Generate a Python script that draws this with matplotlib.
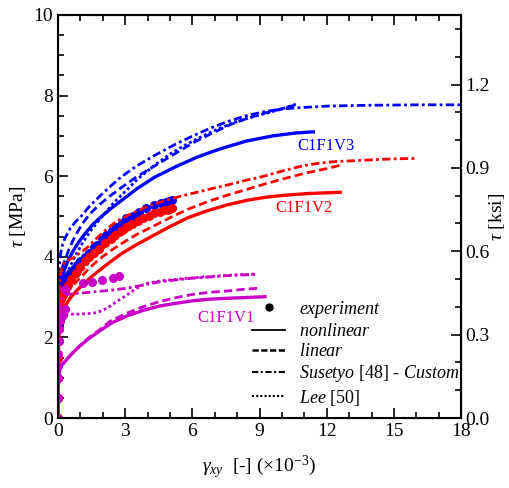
import numpy as np
import matplotlib
matplotlib.use('Agg')
import matplotlib.pyplot as plt
from matplotlib.lines import Line2D
from matplotlib.ticker import MultipleLocator, FormatStrFormatter

plt.rcParams['font.family'] = ['Liberation Serif', 'DejaVu Serif']
plt.rcParams['mathtext.fontset'] = 'custom'
plt.rcParams['mathtext.rm'] = 'Liberation Serif'
plt.rcParams['mathtext.it'] = 'Liberation Serif:italic'

BLUE = '#0000ff'
RED = '#ff0000'
MAG = '#c800c8'

# ---- C1F1V3 (blue) ----
v3_exp_x = [0, 0.005, 0.01, 0.015, 0.02, 0.03, 0.04, 0.05, 0.07, 0.1, 0.15, 0.25, 0.4, 0.55, 0.7, 0.85,
            1.0, 1.2, 1.4, 1.6, 1.75, 1.95, 2.15, 2.4, 2.6, 2.85, 3.05, 3.35, 3.6, 3.95, 4.3, 4.6, 4.8, 4.95, 5.1]
v3_exp_y = [0, 0.5, 1.0, 1.5, 1.9, 2.3, 2.6, 2.85, 3.05, 3.2, 3.3, 3.4, 3.5, 3.6, 3.7, 3.8,
            3.9, 4.0, 4.1, 4.25, 4.3, 4.45, 4.55, 4.65, 4.75, 4.85, 4.95, 5.0, 5.1, 5.2, 5.28, 5.33, 5.36, 5.38, 5.4]
v3_nl_x = [0, 0.005, 0.01, 0.02, 0.04, 0.07, 0.12, 0.2, 0.3, 0.46, 0.65, 0.9, 1.2, 1.55, 1.9, 2.3, 2.84,
           3.5, 4.3, 5.2, 6.2, 7.2, 8.4, 9.6, 10.6, 11.4]
v3_nl_y = [0, 0.8, 1.5, 2.3, 2.9, 3.2, 3.4, 3.55, 3.7, 3.92, 4.12, 4.35, 4.57, 4.8, 4.98, 5.17, 5.4,
           5.68, 5.97, 6.22, 6.47, 6.67, 6.87, 7.0, 7.07, 7.1]
v3_lin_x = [0, 0.005, 0.01, 0.02, 0.04, 0.07, 0.12, 0.2, 0.31, 0.5, 0.75, 1.06, 1.4, 1.8, 2.3, 2.84, 3.5,
            4.33, 5.2, 6.1, 6.93, 7.7, 8.42, 9.2, 9.9, 10.7]
v3_lin_y = [0, 0.9, 1.6, 2.5, 3.1, 3.4, 3.6, 3.75, 3.92, 4.2, 4.5, 4.8, 5.05, 5.27, 5.5, 5.72, 5.98,
            6.26, 6.55, 6.85, 7.08, 7.28, 7.43, 7.56, 7.66, 7.78]
v3_sus_x = [0, 0.005, 0.01, 0.02, 0.04, 0.07, 0.12, 0.2, 0.3, 0.54, 0.8, 1.06, 1.4, 1.8, 2.3, 2.84, 3.5,
            4.33, 5.2, 6.1, 6.93, 7.7, 8.42, 9.2, 9.9, 10.8, 12.1, 14, 16, 18]
v3_sus_y = [0, 1.2, 2.0, 2.9, 3.5, 3.85, 4.1, 4.3, 4.45, 4.7, 4.88, 5.02, 5.25, 5.47, 5.73, 5.99, 6.25,
            6.52, 6.78, 7.02, 7.22, 7.38, 7.5, 7.6, 7.66, 7.7, 7.74, 7.76, 7.77, 7.77]
v3_lee_x = [0, 0.005, 0.01, 0.02, 0.04, 0.07, 0.12, 0.2, 0.4, 0.6, 0.8, 1.1, 1.5, 2.0, 2.5, 3.0, 3.6,
            4.33, 5.0, 5.6, 6.3, 6.93, 7.7, 8.42, 9.2, 9.9, 10.7]
v3_lee_y = [0, 0.8, 1.4, 2.1, 2.7, 3.0, 3.2, 3.35, 3.6, 3.83, 4.05, 4.35, 4.68, 5.02, 5.35, 5.62, 5.95,
            6.28, 6.55, 6.75, 6.95, 7.12, 7.3, 7.43, 7.55, 7.65, 7.8]

# ---- C1F1V2 (red) ----
v2_exp_x = [0, 0.005, 0.01, 0.02, 0.03, 0.04, 0.06, 0.08, 0.1, 0.15, 0.2, 0.3, 0.45, 0.6, 0.8, 1.0, 1.2,
            1.4, 1.6, 1.85, 2.1, 2.35, 2.55, 2.8, 3.05, 3.3, 3.55, 3.8, 4.05, 4.3, 4.55, 4.75, 4.9, 5.0, 5.1]
v2_exp_y = [0, 0.5, 1.0, 1.5, 1.9, 2.2, 2.45, 2.65, 2.8, 2.95, 3.05, 3.15, 3.3, 3.45, 3.6, 3.75, 3.9,
            4.0, 4.1, 4.2, 4.33, 4.45, 4.55, 4.65, 4.75, 4.82, 4.9, 4.95, 5.02, 5.08, 5.12, 5.15, 5.17, 5.18, 5.2]
v2_nl_x = [0, 0.005, 0.01, 0.02, 0.04, 0.07, 0.12, 0.2, 0.31, 0.45, 0.61, 0.85, 1.2, 1.55, 1.95, 2.4,
           2.84, 3.5, 4.33, 5.0, 5.8, 6.6, 7.5, 8.42, 9.3, 10.2, 11.2, 12.6]
v2_nl_y = [0, 0.6, 1.1, 1.6, 2.0, 2.25, 2.45, 2.6, 2.76, 2.9, 3.02, 3.17, 3.36, 3.53, 3.71, 3.9,
           4.08, 4.3, 4.55, 4.75, 4.97, 5.13, 5.28, 5.4, 5.48, 5.53, 5.57, 5.6]
v2_lin_x = [0, 0.005, 0.01, 0.02, 0.04, 0.07, 0.12, 0.2, 0.35, 0.54, 0.8, 1.06, 1.4, 1.8, 2.3, 2.84,
            3.5, 4.33, 5.0, 5.8, 6.6, 7.5, 8.42, 9.2, 9.9, 11.0, 12.1, 12.66]
v2_lin_y = [0, 0.7, 1.2, 1.8, 2.3, 2.6, 2.8, 2.92, 3.05, 3.2, 3.37, 3.52, 3.72, 3.92, 4.13, 4.33,
            4.55, 4.78, 4.97, 5.18, 5.35, 5.52, 5.67, 5.8, 5.91, 6.07, 6.2, 6.28]
v2_sus_x = [0, 0.005, 0.01, 0.02, 0.04, 0.07, 0.12, 0.2, 0.3, 0.45, 0.68, 1.0, 1.35, 1.8, 2.2, 2.62,
            3.2, 4.0, 4.7, 5.45, 6.2, 6.93, 7.7, 8.42, 9.2, 9.9, 10.8, 11.5, 12.3, 13.8, 15.0, 16.0]
v2_sus_y = [0, 0.8, 1.5, 2.3, 2.9, 3.3, 3.6, 3.78, 3.87, 3.92, 3.97, 4.1, 4.25, 4.5, 4.7, 4.88,
            5.05, 5.25, 5.38, 5.5, 5.6, 5.7, 5.8, 5.9, 6.0, 6.11, 6.24, 6.31, 6.36, 6.4, 6.43, 6.44]
v2_lee_x = [0, 0.005, 0.01, 0.02, 0.04, 0.07, 0.12, 0.2, 0.35, 0.5, 0.75, 1.0, 1.4, 2.0, 2.5, 3.0, 3.5,
            4.0, 4.6, 5.2]
v2_lee_y = [0, 0.7, 1.2, 1.8, 2.3, 2.6, 2.8, 2.95, 3.12, 3.25, 3.45, 3.62, 3.88, 4.2, 4.42, 4.6, 4.78,
            4.95, 5.1, 5.2]

# ---- C1F1V1 (magenta) ----
v1_exp_x = [0, 0.005, 0.01, 0.015, 0.02, 0.03, 0.05, 0.08, 0.12, 0.2, 0.3, 0.32, 1.13, 1.5, 1.95, 2.47, 2.74]
v1_exp_y = [0, 0.5, 1.0, 1.3, 1.6, 1.9, 2.2, 2.4, 2.5, 2.56, 2.7, 3.2, 3.34, 3.37, 3.42, 3.47, 3.53]
v1_nl_x = [0, 0.005, 0.01, 0.02, 0.04, 0.08, 0.15, 0.31, 0.5, 0.7, 1.0, 1.35, 1.88, 2.4, 3.07, 3.8,
           4.55, 5.3, 6.04, 6.8, 7.53, 8.4, 9.24]
v1_nl_y = [0, 0.3, 0.6, 0.85, 1.05, 1.2, 1.3, 1.4, 1.52, 1.64, 1.8, 1.96, 2.17, 2.36, 2.53, 2.67,
           2.78, 2.85, 2.91, 2.95, 2.97, 2.99, 3.01]
v1_lin_x = [0, 0.005, 0.01, 0.02, 0.04, 0.08, 0.15, 0.31, 0.5, 0.7, 1.0, 1.35, 1.88, 2.32, 3.07, 3.8,
            4.55, 5.3, 6.04, 6.8, 7.53, 8.2, 8.94]
v1_lin_y = [0, 0.3, 0.6, 0.85, 1.05, 1.2, 1.3, 1.4, 1.53, 1.65, 1.81, 1.98, 2.2, 2.4, 2.6, 2.76,
            2.89, 2.99, 3.07, 3.12, 3.15, 3.19, 3.22]
v1_sus_x = [0, 0.005, 0.01, 0.02, 0.04, 0.07, 0.12, 0.2, 0.3, 0.83, 1.8, 2.5, 3.07, 3.81, 4.55, 5.3,
            6.04, 6.8, 7.53, 8.2, 8.87]
v1_sus_y = [0, 0.6, 1.2, 1.8, 2.3, 2.65, 2.9, 3.02, 3.06, 3.09, 3.14, 3.18, 3.22, 3.3, 3.38, 3.43,
            3.47, 3.5, 3.53, 3.55, 3.56]
v1_lee_x = [0, 0.005, 0.01, 0.02, 0.04, 0.07, 0.12, 0.2, 0.39, 1.0, 1.58, 1.9, 2.17, 2.4, 2.62, 2.85,
            3.07, 3.3, 3.51, 3.75, 3.96, 4.55, 5.3, 6.04, 6.8, 7.53, 8.2, 8.87]
v1_lee_y = [0, 0.5, 1.0, 1.5, 1.95, 2.25, 2.42, 2.52, 2.57, 2.58, 2.6, 2.65, 2.72, 2.8, 2.89, 2.97,
            3.05, 3.14, 3.22, 3.29, 3.34, 3.4, 3.44, 3.48, 3.51, 3.54, 3.56, 3.57]

MPA_PER_KSI = 6.89476

fig = plt.figure(figsize=(5.09, 4.88), dpi=100)
ax = fig.add_axes([0.114, 0.1434, 0.792, 0.826])

lw = 2.0
series = [
    (BLUE, v3_exp_x, v3_exp_y, v3_nl_x, v3_nl_y, v3_lin_x, v3_lin_y, v3_sus_x, v3_sus_y, v3_lee_x, v3_lee_y),
    (RED, v2_exp_x, v2_exp_y, v2_nl_x, v2_nl_y, v2_lin_x, v2_lin_y, v2_sus_x, v2_sus_y, v2_lee_x, v2_lee_y),
    (MAG, v1_exp_x, v1_exp_y, v1_nl_x, v1_nl_y, v1_lin_x, v1_lin_y, v1_sus_x, v1_sus_y, v1_lee_x, v1_lee_y),
]
for c, ex, ey, nx, ny, lx, ly, sx, sy, dx, dy in series:
    ax.plot(sx, sy, color=c, lw=lw, ls=(0, (3, 1.2, 1, 1.2)))
    ax.plot(dx, dy, color=c, lw=lw, ls=(0, (1, 1)))
    ax.plot(lx, ly, color=c, lw=lw, ls=(0, (3, 1.5)))
    ax.plot(nx, ny, color=c, lw=lw + 0.4, ls='-')
    ax.plot(ex, ey, 'o', color=c, ms=6.5, mec='none')

ax.text(10.7, 6.95, 'C1F1V3', color=BLUE, fontsize=12, ha='left', va='top')
ax.text(9.7, 5.4, 'C1F1V2', color=RED, fontsize=12, ha='left', va='top')
ax.text(6.2, 2.68, 'C1F1V1', color=MAG, fontsize=12, ha='left', va='top')

ax.set_xlim(0, 18)
ax.set_ylim(0, 10)
ax.xaxis.set_major_locator(MultipleLocator(3))
ax.xaxis.set_minor_locator(MultipleLocator(1))
ax.yaxis.set_major_locator(MultipleLocator(2))
ax.yaxis.set_minor_locator(MultipleLocator(0.5))
ax.tick_params(which='both', direction='in', top=True, right=False, labelsize=14, width=1.2)
ax.tick_params(which='major', length=7)
ax.tick_params(which='minor', length=4)
for s in ax.spines.values():
    s.set_linewidth(1.5)

ax.set_ylabel(r'$\tau$ [MPa]', fontsize=14, labelpad=4)
ax.set_xlabel(r'$\gamma_{xy}$  [-] ($\times$10$^{-3}$)', fontsize=14, labelpad=10)

ax2 = ax.twinx()
ax2.set_ylim(0, 10 / MPA_PER_KSI)
ax2.yaxis.set_major_locator(MultipleLocator(0.3))
ax2.yaxis.set_minor_locator(MultipleLocator(0.1))
ax2.yaxis.set_major_formatter(FormatStrFormatter('%.1f'))
ax2.tick_params(which='both', direction='in', labelsize=14, width=1.2, pad=3)
ax2.tick_params(which='major', length=7)
ax2.tick_params(which='minor', length=4)
ax2.set_ylabel(r'$\tau$ [ksi]', fontsize=14, labelpad=-2)

handles = [
    Line2D([], [], color='black', marker='o', ls='none', ms=5),
    Line2D([], [], color='black', lw=1.3, ls='-'),
    Line2D([], [], color='black', lw=1.8, ls=(0, (2.5, 1))),
    Line2D([], [], color='black', lw=1.5, ls=(0, (3, 1.2, 1, 1.2))),
    Line2D([], [], color='black', lw=1.5, ls=(0, (1, 1))),
]
labels = [r'$\mathit{experiment}$', r'$\mathit{nonlinear}$', r'$\mathit{linear}$',
          r'$\mathit{Susetyo}$ [48] - $\mathit{Custom}$', r'$\mathit{Lee}$ [50]']
leg = ax.legend(handles, labels, loc='lower right', bbox_to_anchor=(1.015, 0.008), frameon=False,
                fontsize=13, handlelength=1.8, handletextpad=0.8, labelspacing=0.18, borderaxespad=0)

fig.savefig('out.png', dpi=100)
